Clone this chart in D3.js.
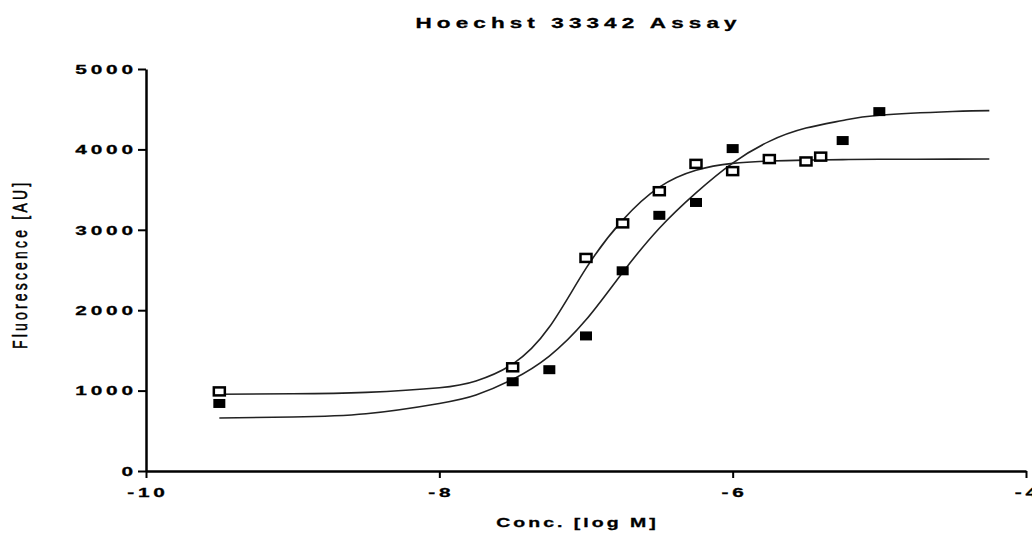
<!DOCTYPE html>
<html>
<head>
<meta charset="utf-8">
<script src="https://cdn.jsdelivr.net/npm/d3@7"></script>
<style>
  body { margin: 0; background: #fff; }
  text { font-family: "Liberation Sans", Arial, sans-serif; fill: #000; stroke: #000; stroke-width: 0.3px; }
</style>
</head>
<body>
<div id="chart"></div>
<script>
// measured points, open squares (series A) and filled squares (series B)
var openX = [-9.5, -7.5, -7.0, -6.75, -6.5, -6.25, -6.0, -5.75, -5.5, -5.4];
var openY = [990, 1290, 2650, 3080, 3480, 3820, 3730, 3880, 3850, 3910];

var filledX = [-9.5, -7.5, -7.25, -7.0, -6.75, -6.5, -6.25, -6.0, -5.25, -5.0];
var filledY = [840, 1110, 1260, 1680, 2490, 3180, 3340, 4010, 4110, 4470];

// fitted curves
var fitAX = [-9.5, -9.0, -8.5, -8.0, -7.75, -7.5, -7.25, -7.0, -6.75, -6.5, -6.25, -6.0, -5.75, -5.5, -5.25, -5.0, -4.5, -4.25];
var fitAY = [955, 960, 978, 1035, 1120, 1330, 1790, 2520, 3120, 3530, 3740, 3826, 3856, 3867, 3873, 3877, 3879, 3880];

var fitBX = [-9.5, -9.0, -8.5, -8.0, -7.75, -7.5, -7.25, -7.0, -6.75, -6.5, -6.25, -6.0, -5.75, -5.5, -5.25, -5.0, -4.5, -4.25];
var fitBY = [660, 672, 712, 840, 945, 1140, 1430, 1880, 2470, 3020, 3460, 3830, 4100, 4265, 4360, 4425, 4472, 4482];

var xTicks = [-10, -8, -6, -4];
var yTicks = [0, 1000, 2000, 3000, 4000, 5000];

var titleText = "Hoechst 33342 Assay";
var xTitle = "Conc. [log M]";
var yTitle = "Fluorescence [AU]";

var w = 1032;
var h = 536;

var svg = d3.select("#chart")
  .append("svg")
  .attr("width", w)
  .attr("height", h);

var x = d3.scaleLinear().domain([-10, -4]).range([146, 1026]);
var y = d3.scaleLinear().domain([0, 5000]).range([471, 69]);

function zip(a, b) {
  return a.map(function(d, i) { return [d, b[i]]; });
}

// axes
svg.append("g")
  .attr("transform", "translate(0," + y(0) + ")")
  .call(d3.axisBottom(x).tickValues(xTicks).tickSize(7).tickSizeOuter(0).tickFormat(""));

svg.append("g")
  .attr("transform", "translate(" + x(-10) + ",0)")
  .call(d3.axisLeft(y).tickValues(yTicks).tickSize(8).tickSizeOuter(0).tickFormat(""));

svg.selectAll(".domain").attr("stroke", "#000").attr("stroke-width", 2.5);
svg.selectAll(".tick line").attr("stroke", "#000").attr("stroke-width", 2);

// text in the picture is stretched sideways, so labels get a scaleX
svg.selectAll(".xlab")
  .data(xTicks)
  .enter()
  .append("text")
  .attr("class", "xlab")
  .attr("transform", function(d) { return "translate(" + x(d) + ",497) scale(1.6,1)"; })
  .attr("text-anchor", "middle")
  .attr("font-size", 13)
  .attr("font-weight", "bold")
  .attr("letter-spacing", 2.4)
  .attr("dx", 1.2)
  .text(function(d) { return d; });

svg.selectAll(".ylab")
  .data(yTicks)
  .enter()
  .append("text")
  .attr("class", "ylab")
  .attr("transform", function(d) { return "translate(133," + (y(d) + 4.8) + ") scale(1.6,1)"; })
  .attr("text-anchor", "end")
  .attr("font-size", 13)
  .attr("font-weight", "bold")
  .attr("letter-spacing", 2.4)
  .attr("dx", 2.4)
  .text(function(d) { return d; });

svg.append("text")
  .attr("transform", "translate(576,28) scale(1.5,1)")
  .attr("text-anchor", "middle")
  .attr("font-size", 15)
  .attr("font-weight", "bold")
  .attr("letter-spacing", 3.4)
  .attr("dx", 1.7)
  .text(titleText);

svg.append("text")
  .attr("transform", "translate(576,527) scale(1.5,1)")
  .attr("text-anchor", "middle")
  .attr("font-size", 13)
  .attr("font-weight", "bold")
  .attr("letter-spacing", 2)
  .attr("dx", 1)
  .text(xTitle);

svg.append("text")
  .attr("transform", "translate(27,266) scale(1.5,1) rotate(-90)")
  .attr("text-anchor", "middle")
  .attr("font-size", 14)
  .attr("letter-spacing", 3.2)
  .attr("dx", 1.6)
  .style("stroke-width", "0.4px")
  .text(yTitle);

// fitted curves
var line = d3.line()
  .x(function(d) { return x(d[0]); })
  .y(function(d) { return y(d[1]); })
  .curve(d3.curveNatural);

[zip(fitAX, fitAY), zip(fitBX, fitBY)].forEach(function(pts) {
  svg.append("path")
    .datum(pts)
    .attr("d", line)
    .attr("fill", "none")
    .attr("stroke", "#222")
    .attr("stroke-width", 1.6);
});

// markers
svg.selectAll(".filled")
  .data(zip(filledX, filledY))
  .enter()
  .append("rect")
  .attr("class", "filled")
  .attr("x", function(d) { return x(d[0]) - 6; })
  .attr("y", function(d) { return y(d[1]) - 4.5; })
  .attr("width", 12)
  .attr("height", 9)
  .attr("fill", "#000");

svg.selectAll(".open")
  .data(zip(openX, openY))
  .enter()
  .append("rect")
  .attr("class", "open")
  .attr("x", function(d) { return x(d[0]) - 5.5; })
  .attr("y", function(d) { return y(d[1]) - 4; })
  .attr("width", 11)
  .attr("height", 8)
  .attr("fill", "#fff")
  .attr("stroke", "#000")
  .attr("stroke-width", 2.5);
</script>
</body>
</html>
